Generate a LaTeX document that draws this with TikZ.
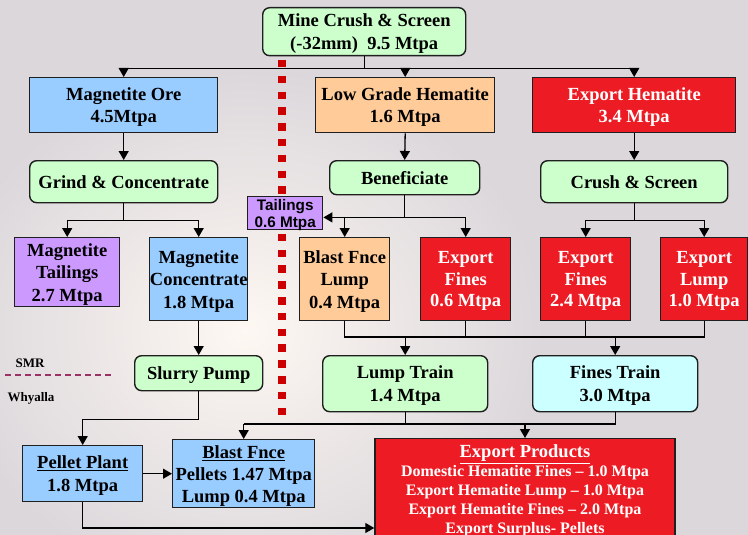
\documentclass[tikz,border=0pt]{standalone}
\usepackage{fontspec}
\setmainfont{Liberation Serif}
\newfontfamily\arialfont{Liberation Sans}
\usetikzlibrary{arrows.meta}
\definecolor{bgc}{HTML}{DCD7DB}
\definecolor{glow}{HTML}{FDF8F2}
\definecolor{gfill}{HTML}{CCFFCC}
\definecolor{bfill}{HTML}{99CCFF}
\definecolor{ofill}{HTML}{FFCC99}
\definecolor{rfill}{HTML}{ED1C24}
\definecolor{pfill}{HTML}{CC99FF}
\definecolor{cfill}{HTML}{CCFFFF}
\definecolor{dotred}{HTML}{CC0000}
\definecolor{smrline}{HTML}{993366}
\begin{document}
\begin{tikzpicture}[x=1pt,y=-1pt,
 boxbase/.style={draw=black!88, line width=1.4pt, inner xsep=0.5pt, inner ysep=1pt, text depth=0pt, align=center, anchor=north west, font=\bfseries\fontsize{18.5}{22.5}\selectfont},
 rbox/.style={boxbase, fill=gfill, rounded corners=7pt},
 bluebox/.style={boxbase, fill=bfill},
 orbox/.style={boxbase, fill=ofill},
 redbox/.style={boxbase, fill=rfill, text=white},
 purbox/.style={boxbase, fill=pfill},
 conn/.style={line width=1.3pt, draw=black},
 arr/.style={conn, -{Triangle[width=10pt,length=9pt]}},
 lbl/.style={font=\bfseries\fontsize{13}{15}\selectfont, inner sep=0pt},
]
\useasboundingbox (0,0) rectangle (748,535);
\clip (0,0) rectangle (748,535);
% background
\fill[bgc] (0,0) rectangle (748,535);
\shade[inner color=glow, outer color=bgc] (245,330) ellipse (300pt and 260pt);

% red dotted boundary
\draw[dotred, line width=8pt, dash pattern=on 7.5pt off 8.3pt] (282,60) -- (282,421);
% SMR / Whyalla
\draw[smrline, line width=1.5pt, dash pattern=on 6pt off 4pt] (5,375) -- (112,375);
\node[lbl] (smr) at (30,363) {SMR};
\node[lbl] (why) at (31,398) {Whyalla};

% nodes
\node[rbox, minimum width=203pt, minimum height=48pt] (mine) at (262,7) {Mine Crush \& Screen\\(-32mm)\ \ 9.5 Mtpa};
\node[bluebox, minimum width=188pt, minimum height=55pt] (mag) at (29,77) {Magnetite Ore\\4.5Mtpa};
\node[orbox, minimum width=179pt, minimum height=55pt] (lgh) at (315,77) {Low Grade Hematite\\1.6 Mtpa};
\node[redbox, minimum width=203pt, minimum height=55pt] (exh) at (532,77) {Export Hematite\\3.4 Mtpa};
\node[rbox, minimum width=188pt, minimum height=42pt] (grind) at (29,160) {Grind \& Concentrate};
\node[rbox, minimum width=150pt, minimum height=34pt] (benef) at (329,160) {Beneficiate};
\node[rbox, minimum width=187pt, minimum height=42pt] (crush) at (540,160) {Crush \& Screen};
\node[purbox, minimum width=75pt, minimum height=33pt, inner ysep=0pt, font=\arialfont\bfseries\fontsize{15.3}{17}\selectfont] (tail) at (247,196) {Tailings\\0.6 Mtpa};
\node[purbox, minimum width=105pt, minimum height=69pt] (magt) at (14,237) {Magnetite\\Tailings\\2.7 Mtpa};
\node[bluebox, minimum width=98pt, minimum height=83pt, inner xsep=0pt] (magc) at (149,237) {Magnetite\\Concentrate\\1.8 Mtpa};
\node[orbox, minimum width=90pt, minimum height=83pt] (bfl) at (299,237) {Blast Fnce\\Lump\\0.4 Mtpa};
\node[redbox, minimum width=90pt, minimum height=83pt, font=\bfseries\fontsize{18.5}{21.5}\selectfont] (ef06) at (420,237) {Export\\Fines\\0.6 Mtpa};
\node[redbox, minimum width=90pt, minimum height=83pt, font=\bfseries\fontsize{18.5}{21.5}\selectfont] (ef24) at (540,237) {Export\\Fines\\2.4 Mtpa};
\node[redbox, minimum width=87pt, minimum height=83pt, font=\bfseries\fontsize{18.5}{21.5}\selectfont] (el10) at (660,237) {Export\\Lump\\1.0 Mtpa};
\node[rbox, minimum width=128pt, minimum height=35pt] (slurry) at (134,355) {Slurry Pump};
\node[rbox, minimum width=165pt, minimum height=56pt] (lump) at (322,355) {Lump Train\\1.4 Mtpa};
\node[rbox, fill=cfill, minimum width=165pt, minimum height=56pt] (fines) at (532,355) {Fines Train\\3.0 Mtpa};
\node[bluebox, minimum width=120pt, minimum height=56pt] (pellet) at (22,445) {\underline{Pellet Plant}\\1.8 Mtpa};
\node[bluebox, minimum width=142pt, minimum height=68pt, font=\bfseries\fontsize{18.5}{22}\selectfont] (bf) at (172,439) {\underline{Blast Fnce}\\Pellets 1.47 Mtpa\\Lump 0.4 Mtpa};
\node[redbox, anchor=north, minimum width=300pt, inner ysep=6pt, text depth=, font=\bfseries\fontsize{16}{19}\selectfont] (exp) at (525,438) {{\fontsize{18.5}{19}\selectfont\underline{Export Products}}\\Domestic Hematite Fines -- 1.0 Mtpa\\Export Hematite Lump -- 1.0 Mtpa\\Export Hematite Fines -- 2.0 Mtpa\\Export Surplus- Pellets\\ };

% junction coordinates
\path (mine.south) ++(0,12) coordinate (j1);
\path (grind.south) ++(0,17) coordinate (j2);
\path (benef.south) ++(0,22) coordinate (j3);
\path (crush.south) ++(0,17) coordinate (j4);
\coordinate (h1) at (0,337);
\coordinate (h2) at (0,424);
\coordinate (h3) at (0,528);

% connectors
\draw[conn] (mine.south) -- (j1);
\draw[arr] (j1) -| (mag.north);
\draw[arr] (j1) -| (lgh.north);
\draw[arr] (j1) -| (exh.north);

\draw[arr] (mag.south) -- (grind.north);
\draw[conn] (grind.south) -- (j2);
\draw[arr] (j2) -| (magt.north);
\draw[arr] (j2) -| (magc.north);
\draw[arr] (magc.south) -- (slurry.north);
\draw[arr] (slurry.south) -- ++(0,28) -| (pellet.north);
\draw[arr] (pellet.east) -- (bf.west);
\draw[arr] (pellet.south) |- (exp.west |- h3);

\draw[arr] (lgh.south) -- (benef.north);
\draw[conn] (benef.south) -- (j3);
\draw[arr] (j3) -- (tail.east |- j3);
\draw[arr] (j3) -| (bfl.north);
\draw[arr] (j3) -| (ef06.north);

\draw[arr] (exh.south) -- (crush.north);
\draw[conn] (crush.south) -- (j4);
\draw[arr] (j4) -| (ef24.north);
\draw[arr] (j4) -| (el10.north);

\draw[conn] (bfl.south) |- (el10.south |- h1) -- (el10.south);
\draw[conn] (ef06.south) -- (ef06.south |- h1);
\draw[conn] (ef24.south) -- (ef24.south |- h1);
\draw[arr] (lump.north |- h1) -- (lump.north);
\draw[arr] (fines.north |- h1) -- (fines.north);

\draw[conn] (lump.south) -- (lump.south |- h2);
\draw[conn] (fines.south) |- (bf.north |- h2);
\draw[arr] (bf.north |- h2) -- (bf.north);
\draw[arr] (exp.north |- h2) -- (exp.north);
\end{tikzpicture}
\end{document}
